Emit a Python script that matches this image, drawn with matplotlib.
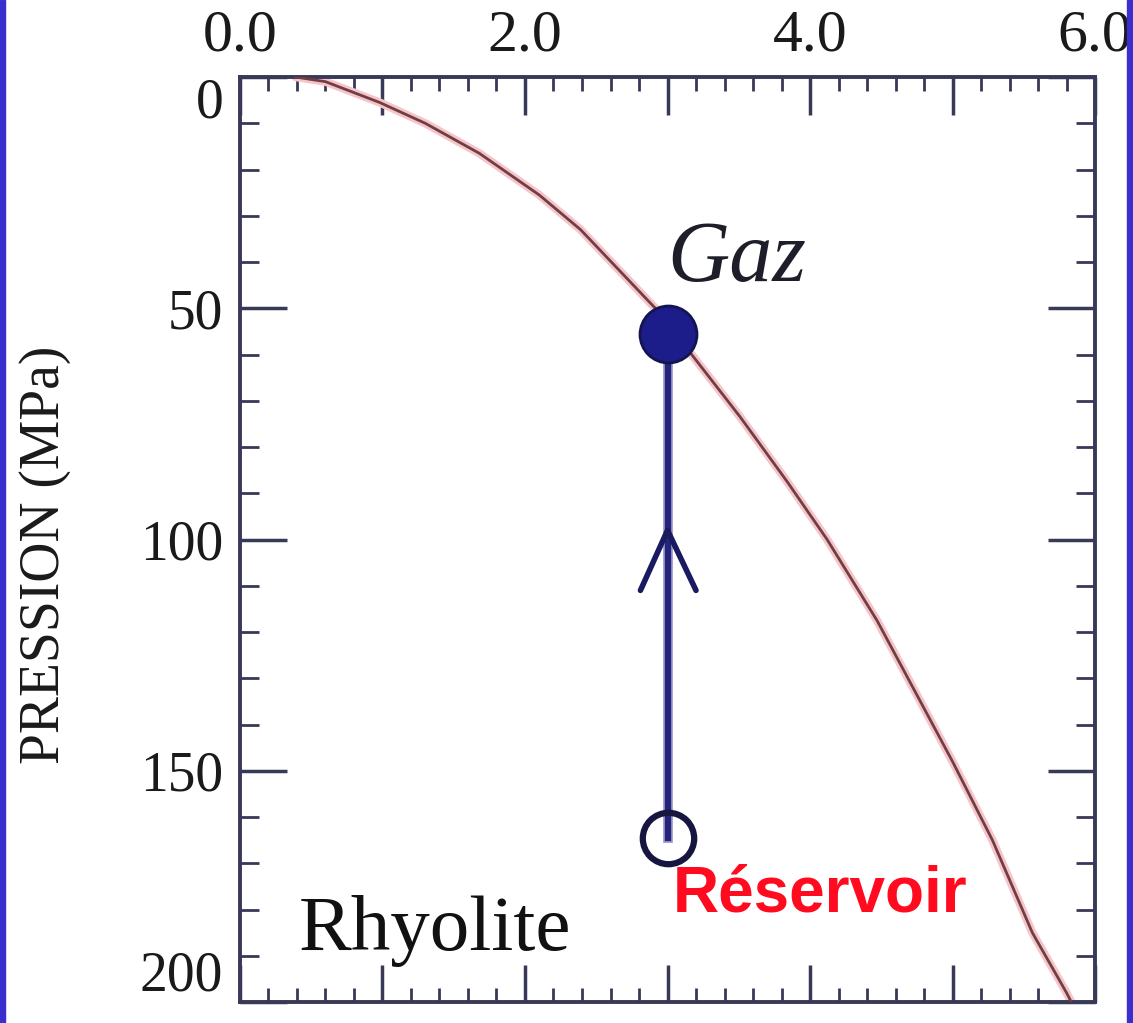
import matplotlib
matplotlib.use("Agg")
import matplotlib.pyplot as plt
from matplotlib.patches import Rectangle
from matplotlib.ticker import MultipleLocator, FuncFormatter

# Courbe de solubilite (teneur en eau % pds vs pression MPa)
eau = [0.39, 0.60, 0.98, 1.30, 1.68, 2.10, 2.39, 2.93, 3.51, 3.84, 4.12, 4.47, 5.00, 5.28, 5.56, 5.80, 5.85]
pression = [0.0, 1.0, 5.5, 10.0, 16.5, 25.5, 33.0, 50.5, 73.5, 87.5, 100.0, 117.5, 148.0, 165.0, 185.0, 198.0, 201.0]

# Trajet de decompression du magma
x_trajet = 3.0
p_gaz = 55.5
p_reservoir = 164.5
fleche_x = [2.81, 3.0, 3.2]
fleche_p = [111.0, 98.0, 111.0]

y_ticks = [0, 50, 100, 150, 200]

fig = plt.figure(figsize=(11.33, 10.23), dpi=100)
ax = fig.add_axes([0.2118, 0.0205, 0.7547, 0.9042])

# courbe avec un halo rose
ax.plot(eau, pression, color="#f7c4ca", lw=6, solid_capstyle="round", zorder=2)
ax.plot(eau, pression, color="#6e3f45", lw=2, zorder=3)

# trajet vertical
ax.plot([x_trajet, x_trajet], [p_gaz, p_reservoir], color="#9a96cc", lw=7, zorder=4)
ax.plot([x_trajet, x_trajet], [p_gaz, p_reservoir], color="#24247a", lw=4.5, zorder=5)
ax.plot(fleche_x, fleche_p, color="#1a1a60", lw=4, solid_capstyle="round", zorder=6)
ax.plot(x_trajet, p_gaz, "o", ms=41, color="#1c1c8a", mec="#141450", mew=2, zorder=7)
ax.plot(x_trajet, p_reservoir, "o", ms=37, mfc="none", mec="#161640", mew=4.5, zorder=7)

# textes
ax.text(3.0, 44, "Gaz", fontsize=62, style="italic", family="Liberation Serif",
        color="#1e1e2a", ha="left", va="baseline")
ax.text(3.04, 180.5, "Réservoir", fontsize=46, weight="bold", family="Liberation Sans",
        color="#ff0a1e", ha="left", va="baseline")
ax.text(0.41, 188.8, "Rhyolite", fontsize=57, family="Liberation Serif",
        color="#111111", ha="left", va="baseline")

ax.set_xlim(0, 6.0)
ax.set_ylim(200, 0)

ax.xaxis.set_major_locator(MultipleLocator(1.0))
ax.xaxis.set_minor_locator(MultipleLocator(0.2))
ax.xaxis.set_major_formatter(FuncFormatter(lambda v, p: f"{v:.1f}" if round(v) % 2 == 0 else ""))
ax.set_yticks(y_ticks)
ax.set_yticklabels([str(t) for t in y_ticks])
ax.yaxis.set_minor_locator(MultipleLocator(10))

ax.tick_params(axis="both", which="both", direction="in", top=True, bottom=True,
               left=True, right=True, labeltop=True, labelbottom=False, colors="#383858")
ax.tick_params(axis="x", which="major", length=27, width=2.5, pad=10,
               labelsize=43, labelcolor="#1a1a1a")
ax.tick_params(axis="x", which="minor", length=10, width=2)
ax.tick_params(axis="y", which="major", length=34, width=2.5, pad=12,
               labelsize=40, labelcolor="#1a1a1a")
ax.tick_params(axis="y", which="minor", length=14, width=2)
for lab in ax.get_xticklabels() + ax.get_yticklabels():
    lab.set_family("Liberation Serif")
ylabs = ax.get_yticklabels()
ylabs[0].set_va("top")
ylabs[-1].set_va("bottom")

for s in ax.spines.values():
    s.set_color("#383858")
    s.set_linewidth(2.8)

ax.set_ylabel("PRESSION (MPa)", fontsize=40, family="Liberation Serif",
              color="#1a1a1a", va="center")
ax.yaxis.set_label_coords(-0.228, 0.483)

# bandes bleues sur les bords
fig.patches.append(Rectangle((0, 0), 5 / 1133, 1, transform=fig.transFigure,
                             color="#3a2fcc", zorder=10))
fig.patches.append(Rectangle((1127 / 1133, 0), 6 / 1133, 1, transform=fig.transFigure,
                             color="#3a2fcc", zorder=10))

fig.savefig("out.png", dpi=100)
